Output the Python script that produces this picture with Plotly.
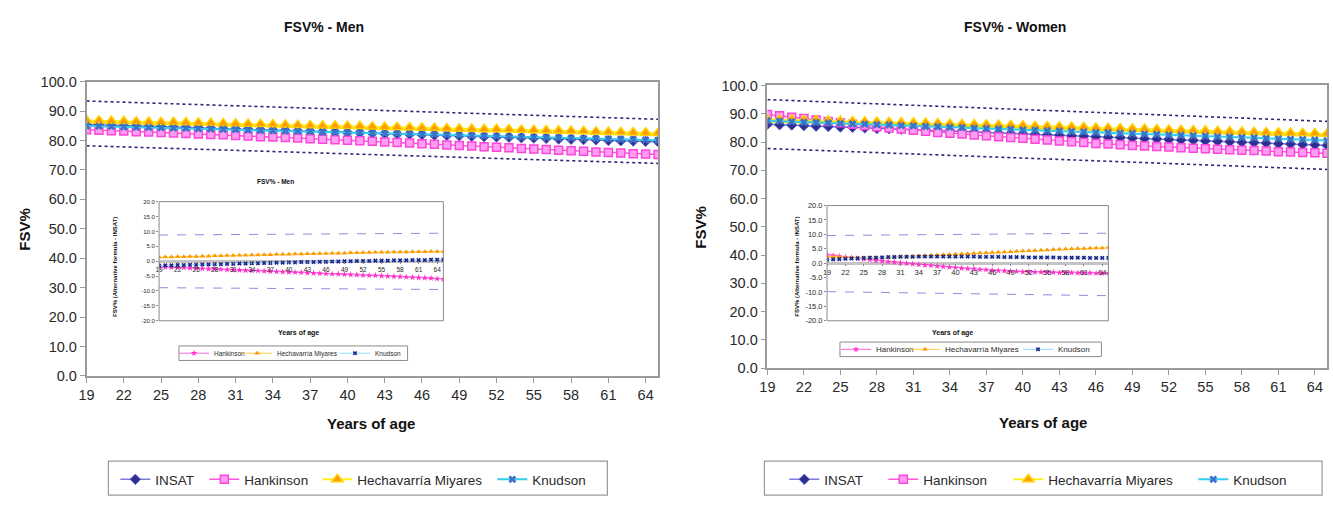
import plotly.graph_objects as go

W, H = 1333, 505

# ---------------- data ----------------
AGES = list(range(19, 66))
LIMIT_AGES = [19, 65]
SERIES_NAMES = ["INSAT", "Hankinson", "Hechavarría Miyares", "Knudson"]

X_TICKS = list(range(19, 65, 3))
MAIN_Y_TICKS = [0, 10, 20, 30, 40, 50, 60, 70, 80, 90, 100]
MAIN_Y_LABELS = ["0.0", "10.0", "20.0", "30.0", "40.0", "50.0", "60.0", "70.0", "80.0", "90.0", "100.0"]
INSET_Y_TICKS = [-20, -15, -10, -5, 0, 5, 10, 15, 20]
INSET_Y_LABELS = ["-20.0", "-15.0", "-10.0", "-5.0", "0.0", "5.0", "10.0", "15.0", "20.0"]

# Men - main chart (FSV%)
MEN_INSAT = [85.4, 85.3, 85.2, 85.0, 84.9, 84.8, 84.7, 84.5, 84.4, 84.3,
             84.1, 84.0, 83.9, 83.8, 83.6, 83.5, 83.4, 83.2, 83.1, 83.0,
             82.9, 82.7, 82.6, 82.5, 82.3, 82.2, 82.1, 82.0, 81.8, 81.7,
             81.6, 81.4, 81.3, 81.2, 81.1, 80.9, 80.8, 80.7, 80.5, 80.4,
             80.3, 80.2, 80.0, 79.9, 79.8, 79.7, 79.6]
MEN_HANKINSON = [83.6, 83.5, 83.3, 83.2, 83.0, 82.9, 82.7, 82.5, 82.4, 82.2,
                 82.0, 81.9, 81.7, 81.5, 81.3, 81.2, 81.0, 80.8, 80.6, 80.4,
                 80.2, 80.1, 79.9, 79.7, 79.5, 79.3, 79.1, 78.9, 78.7, 78.5,
                 78.3, 78.1, 77.9, 77.7, 77.5, 77.3, 77.1, 76.9, 76.7, 76.5,
                 76.3, 76.1, 75.9, 75.7, 75.5, 75.4, 75.2]
MEN_HECHAVARRIA = [86.8, 86.7, 86.6, 86.5, 86.4, 86.3, 86.2, 86.2, 86.1, 86.0,
                   85.9, 85.8, 85.7, 85.6, 85.5, 85.4, 85.3, 85.2, 85.1, 85.0,
                   85.0, 84.9, 84.8, 84.7, 84.6, 84.5, 84.4, 84.3, 84.2, 84.1,
                   84.0, 83.9, 83.8, 83.8, 83.7, 83.6, 83.5, 83.4, 83.3, 83.2,
                   83.1, 83.0, 82.9, 82.8, 82.7, 82.6, 82.5]
MEN_KNUDSON = [84.9, 84.8, 84.7, 84.6, 84.5, 84.4, 84.3, 84.2, 84.1, 84.0,
               83.9, 83.8, 83.7, 83.5, 83.4, 83.3, 83.2, 83.1, 83.0, 82.9,
               82.8, 82.7, 82.6, 82.5, 82.4, 82.3, 82.2, 82.1, 82.0, 81.9,
               81.8, 81.7, 81.5, 81.4, 81.3, 81.2, 81.1, 81.0, 80.9, 80.8,
               80.7, 80.6, 80.5, 80.4, 80.3, 80.2, 80.1]
MEN_UPPER = [93.4, 87.2]
MEN_LOWER = [78.2, 72.2]

# Women - main chart (FSV%)
WOMEN_INSAT = [86.3, 86.1, 86.0, 85.8, 85.6, 85.5, 85.3, 85.2, 85.0, 84.8,
               84.7, 84.5, 84.3, 84.2, 84.0, 83.9, 83.7, 83.5, 83.4, 83.2,
               83.0, 82.9, 82.7, 82.5, 82.4, 82.2, 82.1, 81.9, 81.7, 81.6,
               81.4, 81.2, 81.1, 80.9, 80.7, 80.6, 80.4, 80.3, 80.1, 79.9,
               79.8, 79.6, 79.4, 79.3, 79.1, 79.0, 78.8]
WOMEN_HANKINSON = [89.7, 89.3, 88.8, 88.3, 87.8, 87.3, 86.8, 86.3, 85.8, 85.4,
                   85.0, 84.6, 84.2, 83.8, 83.4, 83.1, 82.8, 82.5, 82.2, 81.9,
                   81.6, 81.3, 81.0, 80.7, 80.4, 80.1, 79.8, 79.5, 79.3, 79.0,
                   78.8, 78.6, 78.4, 78.2, 78.0, 77.8, 77.6, 77.4, 77.3, 77.1,
                   77.0, 76.8, 76.6, 76.5, 76.3, 76.2, 76.0]
WOMEN_HECHAVARRIA = [88.0, 87.9, 87.8, 87.7, 87.6, 87.5, 87.4, 87.3, 87.2, 87.1,
                     87.0, 86.9, 86.8, 86.7, 86.6, 86.4, 86.3, 86.2, 86.1, 86.0,
                     85.9, 85.8, 85.6, 85.5, 85.4, 85.3, 85.2, 85.0, 84.9, 84.8,
                     84.7, 84.6, 84.4, 84.3, 84.2, 84.1, 84.0, 83.8, 83.7, 83.6,
                     83.5, 83.4, 83.3, 83.2, 83.1, 83.0, 82.9]
WOMEN_KNUDSON = [87.5, 87.4, 87.2, 87.0, 86.9, 86.7, 86.6, 86.4, 86.3, 86.1,
                 86.0, 85.8, 85.7, 85.5, 85.4, 85.2, 85.1, 84.9, 84.8, 84.6,
                 84.5, 84.3, 84.2, 84.0, 83.9, 83.7, 83.6, 83.4, 83.3, 83.1,
                 83.0, 82.8, 82.7, 82.5, 82.4, 82.2, 82.1, 81.9, 81.8, 81.6,
                 81.5, 81.3, 81.2, 81.0, 80.9, 80.7, 80.5]
WOMEN_UPPER = [95.0, 87.3]
WOMEN_LOWER = [77.7, 70.3]

# Men - inset (alternative formula - INSAT)
MEN_D_HANKINSON = [-1.9, -2.0, -2.1, -2.1, -2.2, -2.3, -2.4, -2.5, -2.6, -2.6,
                   -2.7, -2.8, -2.9, -3.0, -3.1, -3.2, -3.2, -3.3, -3.4, -3.5,
                   -3.6, -3.7, -3.7, -3.8, -3.9, -4.0, -4.1, -4.2, -4.3, -4.3,
                   -4.4, -4.5, -4.6, -4.7, -4.8, -4.8, -4.9, -5.0, -5.1, -5.2,
                   -5.3, -5.4, -5.5, -5.6, -5.7, -5.9, -6.0]
MEN_D_HECHAVARRIA = [1.3, 1.4, 1.4, 1.5, 1.5, 1.6, 1.6, 1.7, 1.7, 1.8,
                     1.8, 1.9, 1.9, 2.0, 2.0, 2.1, 2.1, 2.2, 2.2, 2.3,
                     2.3, 2.3, 2.4, 2.4, 2.5, 2.5, 2.6, 2.6, 2.7, 2.7,
                     2.7, 2.8, 2.8, 2.9, 2.9, 3.0, 3.0, 3.0, 3.1, 3.1,
                     3.1, 3.2, 3.2, 3.2, 3.3, 3.3, 3.3]
MEN_D_KNUDSON = [-1.5, -1.4, -1.4, -1.3, -1.3, -1.2, -1.2, -1.1, -1.1, -1.0,
                 -1.0, -0.9, -0.9, -0.8, -0.8, -0.7, -0.7, -0.6, -0.6, -0.5,
                 -0.5, -0.4, -0.4, -0.3, -0.3, -0.3, -0.2, -0.2, -0.1, -0.1,
                 0.0, 0.0, 0.1, 0.1, 0.1, 0.2, 0.2, 0.2, 0.3, 0.3,
                 0.3, 0.4, 0.4, 0.4, 0.5, 0.5, 0.5]
MEN_D_UPPER = [8.8, 9.4]
MEN_D_LOWER = [-8.9, -9.5]

# Women - inset (alternative formula - INSAT)
WOMEN_D_HANKINSON = [2.9, 2.6, 2.4, 2.1, 1.9, 1.6, 1.4, 1.2, 0.9, 0.7,
                     0.5, 0.3, 0.1, -0.1, -0.3, -0.5, -0.7, -0.8, -1.0, -1.2,
                     -1.4, -1.5, -1.7, -1.9, -2.0, -2.2, -2.3, -2.5, -2.6, -2.7,
                     -2.8, -2.9, -3.0, -3.0, -3.1, -3.1, -3.2, -3.2, -3.3, -3.3,
                     -3.3, -3.4, -3.4, -3.4, -3.5, -3.5, -3.5]
WOMEN_D_HECHAVARRIA = [2.3, 2.2, 2.1, 2.0, 1.9, 1.9, 1.8, 1.8, 1.9, 1.9,
                       2.0, 2.1, 2.2, 2.3, 2.4, 2.5, 2.6, 2.7, 2.8, 2.9,
                       3.0, 3.1, 3.2, 3.3, 3.4, 3.5, 3.6, 3.7, 3.8, 3.9,
                       4.0, 4.1, 4.2, 4.3, 4.4, 4.5, 4.6, 4.7, 4.8, 4.9,
                       5.0, 5.1, 5.1, 5.2, 5.3, 5.3, 5.4]
WOMEN_D_KNUDSON = [1.2, 1.3, 1.4, 1.5, 1.6, 1.7, 1.8, 1.9, 1.9, 2.0,
                   2.1, 2.1, 2.2, 2.2, 2.2, 2.3, 2.3, 2.3, 2.3, 2.3,
                   2.3, 2.3, 2.3, 2.3, 2.3, 2.2, 2.2, 2.2, 2.2, 2.1,
                   2.1, 2.1, 2.1, 2.0, 2.0, 2.0, 2.0, 2.0, 1.9, 1.9,
                   1.9, 1.9, 1.9, 1.8, 1.8, 1.8, 1.8]
WOMEN_D_UPPER = [9.6, 10.4]
WOMEN_D_LOWER = [-9.9, -11.3]

for arr in [MEN_INSAT, MEN_HANKINSON, MEN_HECHAVARRIA, MEN_KNUDSON,
            WOMEN_INSAT, WOMEN_HANKINSON, WOMEN_HECHAVARRIA, WOMEN_KNUDSON,
            MEN_D_HANKINSON, MEN_D_HECHAVARRIA, MEN_D_KNUDSON,
            WOMEN_D_HANKINSON, WOMEN_D_HECHAVARRIA, WOMEN_D_KNUDSON]:
    assert len(arr) == len(AGES), len(arr)

# ---------------- helpers (layout only) ----------------
def px(x):
    return x / W

def py(y):
    return 1 - y / H

FONT = "Arial, Liberation Sans, sans-serif"
AXIS_GRAY = "#9a9a9a"
TXT = "#2a2a2a"

MAIN_STYLE = {
    "INSAT": dict(line=dict(color="#7b7be0", width=1.5),
                  marker=dict(symbol="diamond", size=8, color="#2e2e90",
                              line=dict(color="#5a5ac0", width=1))),
    "Hankinson": dict(line=dict(color="#ff55dd", width=1.5),
                      marker=dict(symbol="square", size=8, color="#ff9ef0",
                                  line=dict(color="#ff44dd", width=1.5))),
    "Hechavarría Miyares": dict(line=dict(color="#ffee22", width=2),
                                marker=dict(symbol="triangle-up", size=10, color="#ff9a00",
                                            line=dict(color="#ffd400", width=1.5))),
    "Knudson": dict(line=dict(color="#33ccee", width=2),
                    marker=dict(symbol="x", size=7, color="#3d74c8",
                                line=dict(width=0))),
}
INSET_STYLE = {
    "Hankinson": dict(line=dict(color="#ff66dd", width=1),
                      marker=dict(symbol="star", size=5, color="#ff33cc")),
    "Hechavarría Miyares": dict(line=dict(color="#ffcc44", width=1),
                                marker=dict(symbol="triangle-up", size=5, color="#ff9900")),
    "Knudson": dict(line=dict(color="#88ddff", width=1),
                    marker=dict(symbol="x", size=4, color="#222288")),
}

fig = go.Figure()

def legend_widths(text_starts, last):
    return [text_starts[i + 1] - text_starts[i] - 45 for i in range(len(text_starts) - 1)] + [last]

def add_main(xa, ya, legend, series, upper, lower, lw):
    for name, vals, w in zip(SERIES_NAMES, series, lw):
        st = MAIN_STYLE[name]
        fig.add_trace(go.Scatter(x=AGES, y=vals, name=name, mode="lines+markers",
                                 line=st["line"], marker=st["marker"],
                                 xaxis=xa, yaxis=ya, legend=legend, legendwidth=w))
    for lim in (upper, lower):
        fig.add_trace(go.Scatter(x=LIMIT_AGES, y=lim, mode="lines", showlegend=False,
                                 line=dict(color="#2a2a7a", width=1.6, dash="dot"),
                                 xaxis=xa, yaxis=ya, hoverinfo="skip"))

def add_inset(xa, ya, legend, series, upper, lower, lw):
    for lim in (upper, lower):
        fig.add_trace(go.Scatter(x=LIMIT_AGES, y=lim, mode="lines", showlegend=False,
                                 line=dict(color="#8c8ce0", width=1, dash="dash"),
                                 xaxis=xa, yaxis=ya, hoverinfo="skip"))
    for name, vals, w in zip(SERIES_NAMES[1:], series, lw):
        st = INSET_STYLE[name]
        fig.add_trace(go.Scatter(x=AGES, y=vals, name=name, mode="lines+markers",
                                 line=st["line"], marker=st["marker"],
                                 xaxis=xa, yaxis=ya, legend=legend, legendwidth=w))

LEG_L = [148, 237, 350, 525]
LEG_R = [821, 920, 1045, 1230]
LEG_IL = [207, 270, 368]
LEG_IR = [873, 942, 1055]

add_main("x", "y", "legend", [MEN_INSAT, MEN_HANKINSON, MEN_HECHAVARRIA, MEN_KNUDSON],
         MEN_UPPER, MEN_LOWER, legend_widths(LEG_L, 55))
add_main("x2", "y2", "legend2", [WOMEN_INSAT, WOMEN_HANKINSON, WOMEN_HECHAVARRIA, WOMEN_KNUDSON],
         WOMEN_UPPER, WOMEN_LOWER, legend_widths(LEG_R, 55))
add_inset("x3", "y3", "legend3", [MEN_D_HANKINSON, MEN_D_HECHAVARRIA, MEN_D_KNUDSON],
          MEN_D_UPPER, MEN_D_LOWER, legend_widths(LEG_IL, 30))
add_inset("x4", "y4", "legend4", [WOMEN_D_HANKINSON, WOMEN_D_HECHAVARRIA, WOMEN_D_KNUDSON],
          WOMEN_D_UPPER, WOMEN_D_LOWER, legend_widths(LEG_IR, 35))

def main_x(x0, x1, anchor):
    return dict(domain=[px(x0), px(x1)], anchor=anchor, range=[19, 65],
                tickmode="array", tickvals=X_TICKS, ticks="outside", ticklen=5,
                tickcolor=AXIS_GRAY, showline=True, linecolor=AXIS_GRAY, linewidth=1.5,
                mirror=True, showgrid=False, zeroline=False,
                tickfont=dict(family=FONT, size=14.5, color=TXT))

def main_y(y0, y1, anchor):
    return dict(domain=[py(y1), py(y0)], anchor=anchor, range=[0, 100],
                tickmode="array", tickvals=MAIN_Y_TICKS, ticktext=MAIN_Y_LABELS,
                ticks="outside", ticklen=5, tickcolor=AXIS_GRAY,
                showline=True, linecolor=AXIS_GRAY, linewidth=1.5, mirror=True,
                showgrid=False, zeroline=False,
                tickfont=dict(family=FONT, size=14.5, color=TXT))

def inset_x(x0, x1, y0, y1, fs):
    return dict(domain=[px(x0), px(x1)], anchor="free", position=(py(y0) + py(y1)) / 2,
                range=[19, 65], tickmode="array", tickvals=X_TICKS, ticks="outside",
                ticklen=2, tickcolor="#888", showline=False, showgrid=False, zeroline=False,
                tickfont=dict(family=FONT, size=fs, color=TXT))

def inset_y(y0, y1, anchor, fs):
    return dict(domain=[py(y1), py(y0)], anchor=anchor, range=[-20, 20],
                tickmode="array", tickvals=INSET_Y_TICKS, ticktext=INSET_Y_LABELS,
                ticks="outside", ticklen=2, tickcolor="#888", showline=False,
                showgrid=False, zeroline=True, zerolinecolor="#c4c4c4", zerolinewidth=3,
                tickfont=dict(family=FONT, size=fs, color=TXT))

def legend_cfg(starts, cy, size):
    return dict(x=px(starts[0] - 40), xanchor="left", y=py(cy), yanchor="middle",
                orientation="h", bgcolor="rgba(0,0,0,0)", borderwidth=0,
                traceorder="normal", font=dict(family=FONT, size=size, color=TXT))

def ann(text, x, y, size, bold=True, angle=0):
    return dict(text=f"<b>{text}</b>" if bold else text, x=px(x), y=py(y),
                xref="paper", yref="paper", showarrow=False, xanchor="center",
                yanchor="middle", textangle=angle,
                font=dict(family=FONT, size=size, color="#111"))

def rect(x0, y0, x1, y1, color="#8f8f8f", width=1):
    return dict(type="rect", xref="paper", yref="paper", x0=px(x0), x1=px(x1),
                y0=py(y1), y1=py(y0), line=dict(color=color, width=width),
                fillcolor="rgba(0,0,0,0)")

fig.update_layout(
    width=W, height=H, margin=dict(l=0, r=0, t=0, b=0),
    paper_bgcolor="white", plot_bgcolor="white", showlegend=True,
    xaxis=main_x(79, 654, "y"), yaxis=main_y(76, 380, "x"),
    xaxis2=main_x(764, 1327, "y2"), yaxis2=main_y(80, 372, "x2"),
    xaxis3=inset_x(152, 438, 200, 323, 6.5), yaxis3=inset_y(200, 323, "x3", 6),
    xaxis4=inset_x(824, 1107, 204, 323, 7.5), yaxis4=inset_y(204, 323, "x4", 7.5),
    legend=legend_cfg(LEG_L, 487, 13.5),
    legend2=legend_cfg(LEG_R, 487, 13.5),
    legend3=legend_cfg(LEG_IL, 356.5, 6.5),
    legend4=legend_cfg(LEG_IR, 352.5, 8),
    annotations=[
        ann("FSV% - Men", 318, 20, 14),
        ann("FSV% - Women", 1013, 20, 14),
        ann("FSV%", 17, 228, 15, angle=-90),
        ann("FSV%", 697, 226, 15, angle=-90),
        ann("Years of age", 365, 429, 15),
        ann("Years of age", 1041, 428, 15),
        ann("FSV% - Men", 269, 179, 6.5),
        ann("FSV% (Alternative formula - INSAT)", 107, 267, 6, angle=-90),
        ann("FSV% (Alternative formula - INSAT)", 793, 267, 6, angle=-90),
        ann("Years of age", 292, 336, 7),
        ann("Years of age", 950, 336, 7),
    ],
    shapes=[
        rect(101, 468, 603, 503, "#9a9a9a", 1.2),
        rect(761, 468, 1322, 503, "#9a9a9a", 1.2),
        rect(152, 200, 438, 323, "#8a8a8a", 1),
        rect(824, 204, 1107, 323, "#8a8a8a", 1),
        rect(172, 349, 402, 364, "#8a8a8a", 1),
        rect(837, 345, 1100, 360, "#8a8a8a", 1),
    ],
)

fig.write_html("out.html", config={"displayModeBar": False},
               post_script="document.body.style.margin='0px';document.body.style.overflow='hidden';")
